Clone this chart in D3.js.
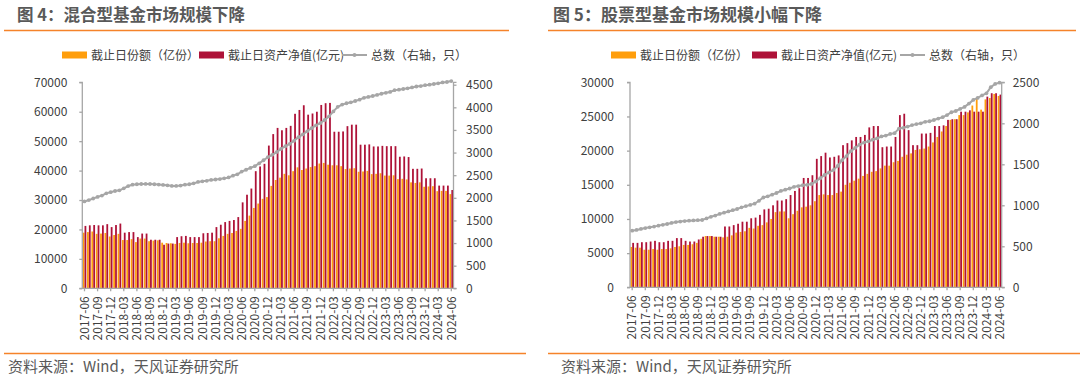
<!DOCTYPE html>
<html><head><meta charset="utf-8">
<script src="https://cdn.jsdelivr.net/npm/d3@7"></script>
<style>
body{margin:0;background:#fff;}
svg{display:block;font-family:"Noto Sans CJK SC","Noto Sans",sans-serif;}
</style></head>
<body><svg id="c" width="1080" height="383"></svg>
<script>
// months 2017-06 .. 2024-06
const months = [];
for (let y = 2017, m = 6; y < 2024 || (y === 2024 && m <= 6); ) {
  months.push(y + "-" + String(m).padStart(2, "0"));
  m++; if (m > 12) { m = 1; y++; }
}
const tickMonths = months.filter((d, i) => i % 3 === 0);

const legendLabels = ["截止日份额（亿份）", "截止日资产净值(亿元)", "总数（右轴，只）"];
const titles = ["图 4：混合型基金市场规模下降", "图 5：股票型基金市场规模小幅下降"];
const sourceText = "资料来源：Wind，天风证券研究所";

// Mixed funds (图4)
const mixShares = [18900,19100,19300,18500,18600,18800,17600,18100,18500,16400,16400,16700,15700,16900,16900,16000,16200,16300,15500,15400,15300,15100,15400,15500,15300,15400,15400,15500,15900,16000,16000,17000,17800,18500,18800,19500,20200,22900,24700,27300,28800,30400,31000,34800,36800,37600,38900,38400,39800,41100,40200,40700,41200,41500,42400,42600,42000,41800,41800,41500,40500,40700,40800,39600,39700,39900,38800,38900,39100,38300,38300,38400,37100,37200,37000,36000,35800,36000,34500,34600,34700,33000,33100,33100,32000];
const mixNav = [21200,21400,21500,21400,21400,21800,20800,21500,22000,18900,19100,19100,17400,18600,18600,16500,16500,16500,14800,15200,15200,17400,17700,17800,17400,17400,17400,18700,18800,18900,20800,21600,22500,22900,23200,24200,29200,31800,33900,39800,41400,42300,48500,52400,54500,53700,54500,55200,59300,60600,62200,59000,59400,60000,62300,62900,63000,53200,53200,53300,55100,55600,55600,48800,48800,48900,48200,48200,48400,48300,48300,48300,44700,44800,44600,40600,40600,40700,37400,37400,37400,34900,34900,34900,33400];
const mixCount = [1920,1950,1985,2020,2050,2100,2125,2150,2165,2210,2260,2290,2300,2305,2307,2305,2300,2292,2285,2275,2263,2262,2270,2290,2300,2320,2350,2365,2375,2396,2405,2415,2430,2450,2490,2520,2580,2620,2660,2700,2760,2830,2900,2950,3010,3080,3140,3190,3260,3340,3400,3470,3540,3600,3650,3720,3800,3910,4010,4060,4090,4110,4140,4170,4210,4230,4250,4275,4300,4320,4340,4380,4390,4405,4420,4440,4460,4470,4490,4500,4515,4530,4550,4560,4580];

// Stock funds (图5)
const stkShares = [5900,5800,5800,5500,5500,5600,5500,5600,5600,5700,5900,6000,6200,6200,6300,6500,7100,7500,7500,7400,7400,7300,7400,7600,8000,8100,8200,8700,8600,9000,9100,9500,10000,11000,11100,11100,10100,10700,11200,11700,11800,12000,12600,13500,13600,13500,13500,13800,14000,15000,15300,15600,15900,16300,16600,16900,17000,17400,17800,17800,18300,18500,19100,19400,19600,20100,20200,20300,20600,21200,22000,22800,23600,24500,24600,25200,25200,25600,26600,27600,26000,27500,27700,28300,28000];
const stkNav = [6500,6500,6600,6600,6700,6800,6600,6600,6800,6800,7200,7200,6800,6700,6700,7000,7400,7500,7500,7400,7400,8900,8900,9100,9300,9600,9600,10100,10200,10600,11400,11500,12000,12700,12700,12900,13500,14100,14500,16000,16000,16400,18800,19200,19700,19000,19100,19300,20800,21100,21500,22000,22000,22300,23400,23600,23600,20500,20600,20600,22000,25200,25400,23000,20800,20800,22500,22500,22600,23600,23600,23700,24500,24600,24600,25700,25700,25900,25700,25700,25700,27900,28400,28400,28200];
const stkCount = [690,700,712,722,732,740,752,762,772,785,795,802,808,813,815,818,821,840,860,875,895,910,925,940,955,975,990,1005,1020,1055,1095,1110,1130,1150,1175,1190,1205,1225,1235,1245,1250,1260,1290,1330,1370,1400,1430,1480,1550,1600,1660,1700,1740,1765,1780,1800,1815,1840,1850,1870,1880,1935,1945,1960,1978,1990,2000,2018,2025,2040,2058,2075,2100,2135,2150,2175,2200,2240,2285,2310,2340,2365,2440,2480,2496];

const leftTicksA = [0,10000,20000,30000,40000,50000,60000,70000];
const rightTicksA = [0,500,1000,1500,2000,2500,3000,3500,4000,4500];
const leftTicksB = [0,5000,10000,15000,20000,25000,30000];
const rightTicksB = [0,500,1000,1500,2000,2500];

const C_OR = "#FF9E0C", C_RD = "#AE1238", C_GR = "#A6A6A6", C_LINE = "#F5832A", C_TXT = "#404040";
const svg = d3.select("#c");

function panel(cfg) {
  const g = svg.append("g");
  // title
  g.append("text").attr("x", cfg.titleX).attr("y", 21).attr("font-size", cfg.titleSize).attr("font-weight", 700)
    .attr("fill", "#595959").text(cfg.title);
  g.append("line").attr("x1", cfg.lineX1).attr("x2", cfg.lineX2).attr("y1", 30.5).attr("y2", 30.5)
    .attr("stroke", C_LINE).attr("stroke-width", 1.5);
  g.append("line").attr("x1", cfg.lineX1).attr("x2", cfg.botX2).attr("y1", 353.5).attr("y2", 353.5)
    .attr("stroke", C_LINE).attr("stroke-width", 1.5);
  g.append("text").attr("x", cfg.srcX).attr("y", 371.5).attr("font-size", 15).attr("fill", "#595959").text(sourceText);

  const x = d3.scaleBand().domain(months).range([cfg.x0, cfg.x1]).paddingInner(0.16).paddingOuter(0.08);
  const xs = d3.scaleBand().domain(["s", "n"]).range([0, x.bandwidth()]).paddingInner(0.05);
  const yL = d3.scaleLinear().domain([0, cfg.lMax]).range([cfg.y0, cfg.y1]);
  const yR = d3.scaleLinear().domain([0, cfg.rMax]).range([cfg.y0, cfg.y1]);

  const bars = g.append("g");
  months.forEach((m, i) => {
    bars.append("rect").attr("x", x(m) + xs("s")).attr("width", xs.bandwidth())
      .attr("y", yL(cfg.shares[i])).attr("height", yL(0) - yL(cfg.shares[i])).attr("fill", C_OR);
    bars.append("rect").attr("x", x(m) + xs("n")).attr("width", xs.bandwidth())
      .attr("y", yL(cfg.nav[i])).attr("height", yL(0) - yL(cfg.nav[i])).attr("fill", C_RD);
  });

  const line = d3.line().x((d, i) => x(months[i]) + x.bandwidth() / 2).y(d => yR(d));
  g.append("path").datum(cfg.count).attr("d", line).attr("fill", "none").attr("stroke", C_GR).attr("stroke-width", 2);
  g.append("g").selectAll("circle").data(cfg.count).join("circle")
    .attr("cx", (d, i) => x(months[i]) + x.bandwidth() / 2).attr("cy", d => yR(d)).attr("r", 1.9).attr("fill", C_GR);

  const axL = g.append("g").attr("transform", `translate(${cfg.x0},0)`)
    .call(d3.axisLeft(yL).tickValues(cfg.lTicks).tickSize(3).tickPadding(cfg.lPad).tickFormat(d3.format("d")));
  const axR = g.append("g").attr("transform", `translate(${cfg.x1},0)`)
    .call(d3.axisRight(yR).tickValues(cfg.rTicks).tickSize(3).tickPadding(cfg.rPad).tickFormat(d3.format("d")));
  const axX = g.append("g").attr("transform", `translate(0,${cfg.y0})`)
    .call(d3.axisBottom(x).tickValues(tickMonths).tickSize(3));
  axX.selectAll("text").attr("transform", "rotate(-90)").attr("x", -8).attr("y", 0).attr("dy", "0.35em")
    .style("text-anchor", "end");
  [axL, axR, axX].forEach(a => {
    a.select(".domain").attr("stroke", C_GR).attr("stroke-width", 1.3);
    a.selectAll(".tick line").attr("stroke", C_GR).attr("stroke-width", 1.3);
    a.selectAll("text").attr("fill", C_TXT).attr("font-size", 12).attr("font-family", '"Noto Sans CJK SC",sans-serif');
  });
  axL.select(".domain").attr("d", `M-3,${cfg.y0}H0V${cfg.y1}H-3`);
  axR.select(".domain").attr("d", `M3,${cfg.y0}H0V${cfg.y1}H3`);
  axX.select(".domain").attr("d", `M${cfg.x0},0H${cfg.x1}`);

  // legend
  const lg = g.append("g").attr("font-size", 12).attr("fill", C_TXT);
  const ly = 55;
  lg.append("rect").attr("x", cfg.leg[0]).attr("y", ly - 3.5).attr("width", 25).attr("height", 7).attr("fill", C_OR);
  lg.append("text").attr("x", cfg.leg[0] + 29).attr("y", ly + 4.5).text(legendLabels[0]);
  lg.append("rect").attr("x", cfg.leg[1]).attr("y", ly - 3.5).attr("width", 25).attr("height", 7).attr("fill", C_RD);
  lg.append("text").attr("x", cfg.leg[1] + 29).attr("y", ly + 4.5).text(legendLabels[1]);
  lg.append("line").attr("x1", cfg.leg[2]).attr("x2", cfg.leg[2] + 25).attr("y1", ly).attr("y2", ly)
    .attr("stroke", C_GR).attr("stroke-width", 2);
  lg.append("circle").attr("cx", cfg.leg[2] + 12.5).attr("cy", ly).attr("r", 2).attr("fill", C_GR);
  lg.append("text").attr("x", cfg.leg[2] + 29).attr("y", ly + 4.5).text(legendLabels[2]);
}

panel({
  title: titles[0], titleX: 17, titleSize: 16.5, lineX1: 4, lineX2: 509, botX2: 526, srcX: 8,
  x0: 82.3, x1: 453.5, y0: 288.3, y1: 82.3, lMax: 70000, rMax: 4553,
  shares: mixShares, nav: mixNav, count: mixCount,
  lTicks: leftTicksA, rTicks: rightTicksA, lPad: 12, rPad: 9.5,
  leg: [62, 199, 342]
});
panel({
  title: titles[1], titleX: 553, titleSize: 17, lineX1: 548, lineX2: 1076, botX2: 1080, srcX: 561,
  x0: 630, x1: 1001.7, y0: 287.3, y1: 82.3, lMax: 30000, rMax: 2500,
  shares: stkShares, nav: stkNav, count: stkCount,
  lTicks: leftTicksB, rTicks: rightTicksB, lPad: 13, rPad: 8,
  leg: [611, 752, 900]
});
</script></body></html>
